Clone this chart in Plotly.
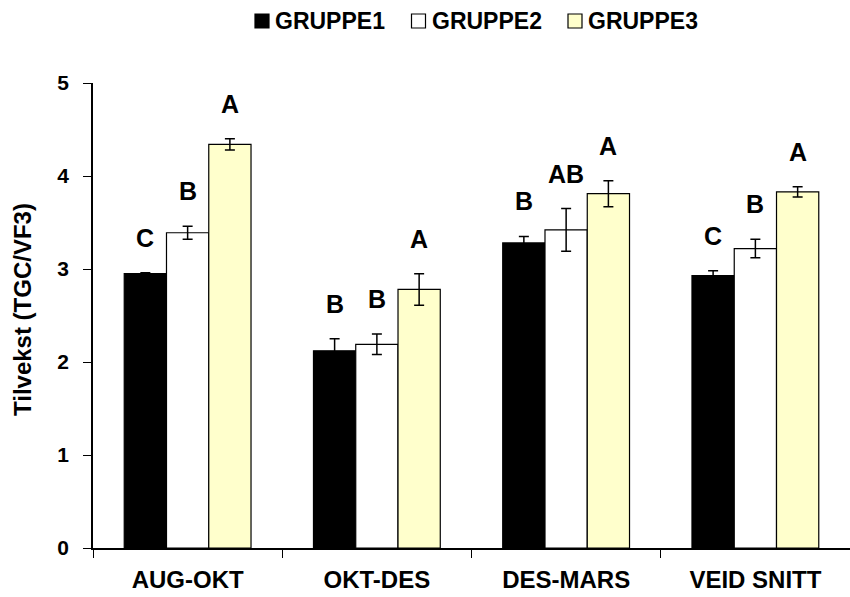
import plotly.graph_objects as go

# periods on x axis
periods = ["AUG-OKT", "OKT-DES", "DES-MARS", "VEID SNITT"]

# mean growth (TGC/VF3) per group
gruppe1 = [2.95, 2.12, 3.28, 2.93]
gruppe2 = [3.39, 2.19, 3.42, 3.22]
gruppe3 = [4.34, 2.78, 3.81, 3.83]

# standard errors
err1 = [0.01, 0.13, 0.07, 0.05]
err2 = [0.07, 0.11, 0.23, 0.10]
err3 = [0.06, 0.17, 0.14, 0.055]

# significance letters
letters1 = ["C", "B", "B", "C"]
letters2 = ["B", "B", "AB", "B"]
letters3 = ["A", "A", "A", "A"]

groups = [
    ("GRUPPE1", gruppe1, err1, letters1, "#000000"),
    ("GRUPPE2", gruppe2, err2, letters2, "#FFFFFF"),
    ("GRUPPE3", gruppe3, err3, letters3, "#FFFFCC"),
]

FONT = "Liberation Sans, Arial, sans-serif"
W, H = 850, 597
L, R, T, B = 93, 0, 83, 49
plot_w = W - L - R
plot_h = H - T - B


def px_x(px):
    return (px - L) / plot_w


def px_y(py):
    return (H - B - py) / plot_h


fig = go.Figure()
for name, vals, errs, _, color in groups:
    fig.add_trace(go.Bar(
        x=periods, y=vals, name=name,
        marker=dict(color=color, line=dict(color="#000000", width=1.2)),
        error_y=dict(type="data", array=errs, visible=True,
                     color="#000000", thickness=1.5, width=5),
        showlegend=False,
    ))

# letters above each bar
bar_w = plot_w / len(periods) * (1 - 0.33) / 3
for i, (name, vals, errs, letters, color) in enumerate(groups):
    for j, p in enumerate(periods):
        fig.add_annotation(
            x=p, y=vals[j] + errs[j], xref="x", yref="y",
            text=letters[j], showarrow=False,
            xshift=(i - 1) * bar_w, yshift=35, yanchor="middle",
            font=dict(family=FONT, size=25, color="#000000", weight="bold"),
        )

# legend drawn by hand: small square + label
for k, (name, vals, errs, letters, color) in enumerate(groups):
    x0 = 255 + k * 156.5
    fig.add_shape(
        type="rect", xref="paper", yref="paper",
        x0=px_x(x0), x1=px_x(x0 + 14), y0=px_y(28), y1=px_y(14),
        fillcolor=color, line=dict(color="#000000", width=1.2),
    )
    fig.add_annotation(
        x=px_x(x0 + 18), y=px_y(21), xref="paper", yref="paper",
        text=name, showarrow=False, xanchor="left", yanchor="middle",
        font=dict(family=FONT, size=23, color="#000000", weight="bold"),
    )

# y axis title
fig.add_annotation(
    x=px_x(22), y=px_y(310), xref="paper", yref="paper",
    text="Tilvekst (TGC/VF3)", textangle=-90, showarrow=False,
    xanchor="center", yanchor="middle",
    font=dict(family=FONT, size=24, color="#000000", weight="bold"),
)

fig.update_layout(
    width=W, height=H,
    margin=dict(l=L, r=R, t=T, b=B),
    paper_bgcolor="white", plot_bgcolor="white",
    barmode="group", bargap=0.33, bargroupgap=0,
    font=dict(family=FONT, color="#000000"),
    showlegend=False,
)

fig.update_xaxes(
    showline=True, linecolor="#000000", linewidth=1.5,
    ticks="outside", tickson="boundaries", ticklen=8, tickcolor="#000000",
    ticklabelstandoff=9,
    tickfont=dict(family=FONT, size=24, color="#000000", weight="bold"),
    showgrid=False, zeroline=False,
)
fig.update_yaxes(
    range=[0, 5], dtick=1, showline=True, linecolor="#000000", linewidth=1.5,
    ticks="outside", ticklen=8, tickcolor="#000000",
    ticklabelstandoff=10,
    tickfont=dict(family=FONT, size=21, color="#000000", weight="bold"),
    showgrid=False, zeroline=False,
)

fig.write_html("out.html", config={"displayModeBar": False},
               post_script="document.body.style.margin='0';")
